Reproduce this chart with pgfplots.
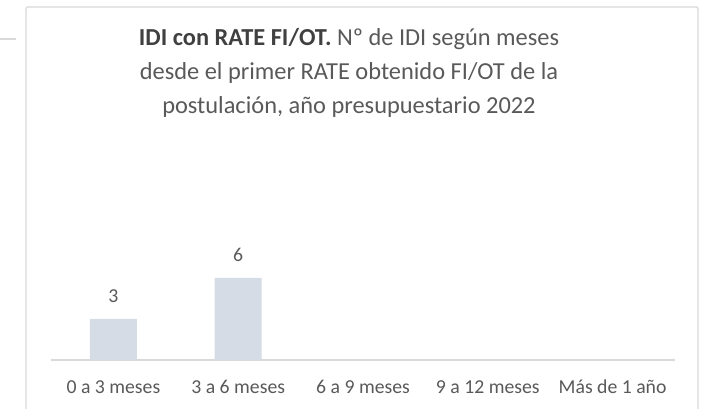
\documentclass[border=0pt]{standalone}
\usepackage{pgfplots}
\pgfplotsset{compat=1.18}
\usepackage{fontspec}
\setmainfont{Carlito}
\definecolor{txt}{HTML}{595959}
\definecolor{txtd}{HTML}{404040}
\definecolor{barc}{HTML}{D6DCE5}
\definecolor{grid}{HTML}{D9D9D9}
\pgfplotstableread{
x y
0 3
1 6
2 0
3 0
4 0
}\datatab
\begin{document}
\begin{tikzpicture}
\useasboundingbox (0,0) rectangle (531pt,306.75pt);
% chart frame
\draw[grid, line width=1.1pt, rounded corners=1pt] (19.5pt,-5pt) rectangle (523.5pt,301.5pt);
\draw[grid, line width=0.8pt] (0,277.5pt) -- (12pt,277.5pt);
% title
\node[anchor=base, font=\fontsize{18.3}{22}\selectfont, text=txt, inner sep=0pt] at (261.75pt,272.25pt) {\textcolor{txtd}{\bfseries IDI con RATE FI/OT.} Nº de IDI según meses};
\node[anchor=base, font=\fontsize{18.3}{22}\selectfont, text=txt, inner sep=0pt] at (261.75pt,246.75pt) {desde el primer RATE obtenido FI/OT de la};
\node[anchor=base, font=\fontsize{18.3}{22}\selectfont, text=txt, inner sep=0pt] at (261.75pt,221.25pt) {postulación, año presupuestario 2022};
\begin{axis}[
  at={(38.25pt,36.75pt)}, anchor=south west,
  scale only axis, width=468pt, height=102.5pt,
  xmin=-0.5, xmax=4.5, ymin=0, ymax=10,
  axis x line*=bottom, axis y line=none,
  x axis line style={grid, line width=0.8pt, -},
  xtick={0,1,2,3,4}, major tick length=0pt,
  xticklabels={0 a 3 meses, 3 a 6 meses, 6 a 9 meses, 9 a 12 meses, Más de 1 año},
  xticklabel style={anchor=base, yshift=-25.5pt, text=txt, font=\fontsize{14.8}{17}\selectfont, inner sep=0pt},
  ytick=\empty,
  clip=false,
  /pgf/number format/assume math mode=true,
]
\addplot[ybar, bar width=35.25pt, fill=barc, draw=none,
  nodes near coords={\pgfmathfloatparsenumber{\pgfplotspointmeta}\pgfmathfloatifflags{\pgfmathresult}{0}{}{\pgfmathprintnumber{\pgfplotspointmeta}}},
  every node near coord/.append style={anchor=base, yshift=12pt, inner sep=0pt, text=txt, font=\fontsize{14.8}{17}\selectfont},
] table[x=x, y=y] {\datatab};
\end{axis}
\end{tikzpicture}
\end{document}
